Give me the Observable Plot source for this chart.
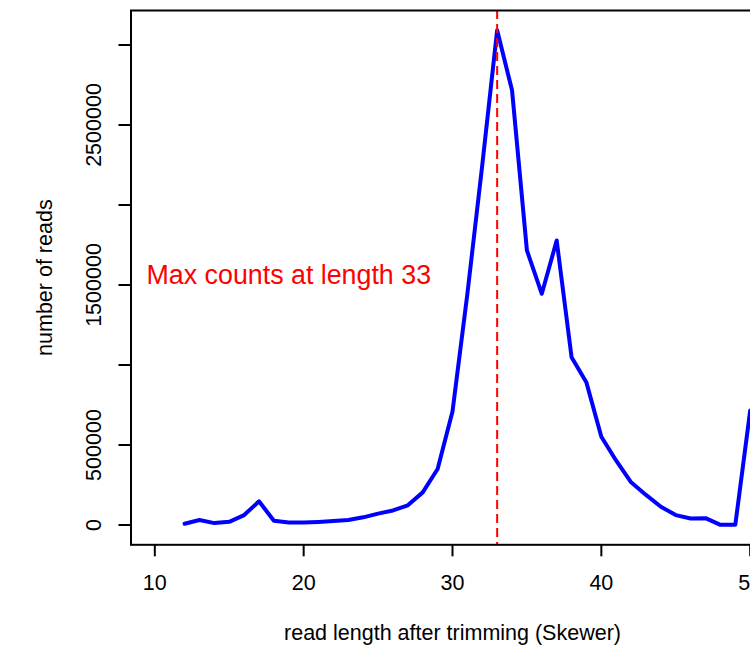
<!DOCTYPE html>
<html>
<head>
<meta charset="utf-8">
<script src="https://cdn.jsdelivr.net/npm/d3@7"></script>
<script src="https://cdn.jsdelivr.net/npm/@observablehq/plot@0.6"></script>
<style>
  html, body { margin: 0; padding: 0; background: #fff; overflow: hidden; }
  #chart svg { display: block; }
</style>
</head>
<body>
<div id="chart"></div>
<script>
// read length after trimming
const lengths = [12, 13, 14, 15, 16, 17, 18, 19, 20, 21, 22, 23, 24, 25, 26, 27, 28, 29, 30,
  31, 32, 33, 34, 35, 36, 37, 38, 39, 40, 41, 42, 43, 44, 45, 46, 47, 48, 49, 50];
// number of reads
const counts = [8000, 31000, 12000, 20000, 62000, 148000, 27000, 15000, 15000, 19000, 25000,
  31000, 48000, 71000, 91000, 123000, 204000, 350000, 710000, 1445000, 2250000, 3092000,
  2717000, 1716000, 1445000, 1778000, 1048000, 890000, 552000, 402000, 267000, 188000,
  114000, 62000, 41000, 43000, 1000, 1000, 715000];

const xTicks = [10, 20, 30, 40, 50];
const yTicks = [0, 500000, 1000000, 1500000, 2000000, 2500000, 3000000];
const yTickLabels = ["0", "500000", "", "1500000", "", "2500000", ""];
const xTitle = "read length after trimming (Skewer)";
const yTitle = "number of reads";

const data = lengths.map((len, i) => ({len, n: counts[i]}));
const maxIdx = d3.maxIndex(counts);
const maxLen = lengths[maxIdx];
const annotation = [{x: 19, y: 1560000, label: `Max counts at length ${maxLen}`}];

const chart = Plot.plot({
  width: 750,
  height: 655,
  marginLeft: 130.5,
  marginRight: -23.5,
  marginTop: 10,
  marginBottom: 110.7,
  style: {fontFamily: "'Liberation Sans', Arial, Helvetica, sans-serif", fontSize: "21.5px", background: "white", color: "black"},
  x: {domain: [8.4, 51.6], axis: null},
  y: {domain: [-123700, 3215700], axis: null},
  marks: [
    Plot.axisX({ticks: xTicks, tickSize: 12, tickPadding: 17.5, strokeWidth: 2, label: null, fontSize: 21.5, tickFormat: d => String(d)}),
    Plot.axisY({ticks: yTicks, tickSize: 12, strokeWidth: 2, label: null, tickFormat: () => ""}),
    Plot.text(yTicks, {y: d => d, text: (d, i) => yTickLabels[i], frameAnchor: "left", dx: -37, rotate: -90, textAnchor: "middle", lineAnchor: "middle", fontSize: 21.5, fill: "black"}),
    Plot.text([xTitle], {text: d => d, frameAnchor: "bottom", dy: 88, textAnchor: "middle", lineAnchor: "middle", fontSize: 21.5, fill: "black"}),
    Plot.text([yTitle], {text: d => d, frameAnchor: "left", dx: -85.5, rotate: -90, textAnchor: "middle", lineAnchor: "middle", fontSize: 21.5, fill: "black"}),
    Plot.line(data, {x: "len", y: "n", stroke: "#0000ff", strokeWidth: 4, strokeLinejoin: "round", strokeLinecap: "round"}),
    Plot.ruleX([maxLen], {stroke: "#ff0000", strokeWidth: 2, strokeDasharray: "9,5"}),
    Plot.text(annotation, {x: "x", y: "y", text: "label", fill: "#ff0000", fontSize: 26.8, textAnchor: "middle", lineAnchor: "middle"}),
    Plot.frame({stroke: "black", strokeWidth: 2})
  ]
});
document.getElementById("chart").appendChild(chart);
</script>
</body>
</html>
